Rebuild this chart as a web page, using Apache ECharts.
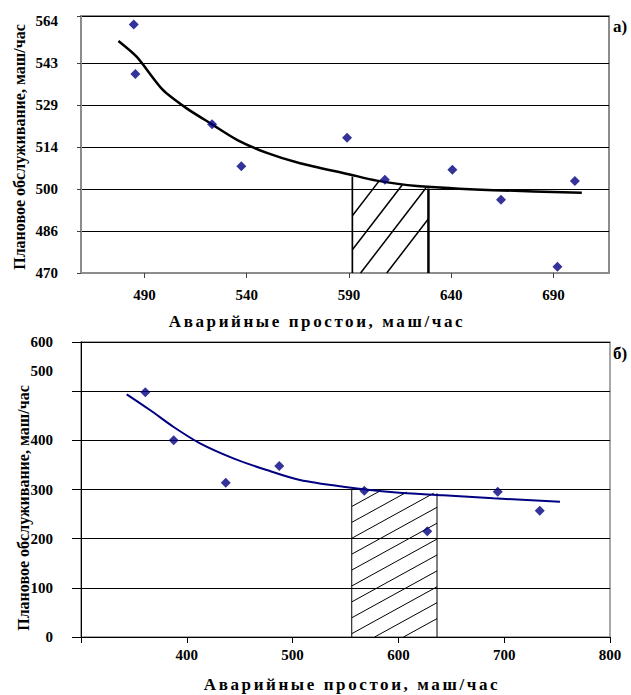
<!DOCTYPE html>
<html>
<head>
<meta charset="utf-8">
<script src="https://cdn.jsdelivr.net/npm/echarts@6/dist/echarts.min.js"></script>
<style>
  html, body { margin: 0; padding: 0; background: #fff; }
  #main { width: 631px; height: 695px; }
</style>
</head>
<body>
<div id="main"></div>
<script>
// а) верхний график
var topPointsX = [484.8, 485.6, 523.1, 537.4, 589.1, 607.6, 640.6, 664.4, 692.0, 700.5];
var topPointsY = [558.8, 541.1, 523.1, 508.1, 518.3, 503.3, 506.9, 496.2, 472.2, 502.9];
var topTrendX = [477.3, 486.3, 498.8, 510.7, 523.1, 535.5, 549.9, 566.1, 589.8, 603.6, 623.2, 660.7, 703.9];
var topTrendY = [552.9, 547.2, 535.6, 528.8, 523.1, 517.5, 512.9, 509.2, 505.3, 503.0, 501.1, 499.6, 498.7];
var topXTicks = [490, 540, 590, 640, 690];
var topYLabels = ['470', '486', '500', '514', '529', '543', '564'];
var topZone = [591.7, 628.9, 504.4, 500.2]; // x от, x до, верх слева, верх справа

// б) нижний график
var botPointsX = [360.8, 387.6, 436.8, 487.4, 567.8, 627.3, 693.9, 733.6];
var botPointsY = [497.7, 400.0, 313.8, 347.8, 297.5, 215.0, 295.5, 256.9];
var botTrendX = [343.2, 365.2, 387.2, 412.5, 444.0, 475.5, 507.0, 547.9, 595.2, 642.4, 689.7, 752.7];
var botTrendY = [493.6, 461.7, 427.7, 393.9, 363.4, 339.6, 319.3, 305.7, 294.3, 288.2, 282.1, 275.2];
var botZone = [555.9, 636.5, 299.0, 292.2];

var yTitle = 'Плановое обслуживание, маш/час';
var xTitle = 'Аварийные простои, маш/час';

var serif = "'Liberation Serif', 'Times New Roman', serif";

function zip(xs, ys) {
  return xs.map(function (x, i) { return [x, ys[i]]; });
}

// y-шкала верхнего графика: равные шаги, подписи как на рисунке
var topYMin = 470, topYStep = 15;
var topYVals = topYLabels.map(function (l, i) { return topYMin + i * topYStep; });
var topYMax = 561.8;

function clipLine(p, d, poly) {
  var ts = [];
  for (var i = 0; i < poly.length; i++) {
    var a = poly[i], b = poly[(i + 1) % poly.length];
    var ex = b[0] - a[0], ey = b[1] - a[1];
    var den = d[0] * ey - d[1] * ex;
    if (Math.abs(den) < 1e-9) continue;
    var wx = a[0] - p[0], wy = a[1] - p[1];
    var t = (wx * ey - wy * ex) / den;
    var u = (wx * d[1] - wy * d[0]) / den;
    if (u >= -1e-9 && u <= 1 + 1e-9) ts.push(t);
  }
  if (ts.length < 2) return null;
  var t0 = Math.min.apply(null, ts), t1 = Math.max.apply(null, ts);
  if (t1 - t0 < 1) return null;
  return [[p[0] + t0 * d[0], p[1] + t0 * d[1]], [p[0] + t1 * d[0], p[1] + t1 * d[1]]];
}

// штриховка зоны
function hatch(slope, phase, step, count, lw, leftW, rightW) {
  return function (params, api) {
    var tl = api.coord([api.value(0), api.value(2)]);
    var tr = api.coord([api.value(1), api.value(3)]);
    var bottom = params.coordSys.y + params.coordSys.height;
    var bl = [tl[0], bottom], br = [tr[0], bottom];
    var poly = [tl, tr, br, bl];
    var kids = [
      { type: 'line', shape: { x1: tl[0], y1: tl[1], x2: bl[0], y2: bl[1] }, style: { stroke: '#000', lineWidth: leftW } },
      { type: 'line', shape: { x1: tr[0], y1: tr[1], x2: br[0], y2: br[1] }, style: { stroke: '#000', lineWidth: rightW } }
    ];
    for (var k = 0; k < count; k++) {
      var seg = clipLine([tl[0], tl[1] + phase + k * step], [1, slope], poly);
      if (!seg) continue;
      kids.push({
        type: 'line',
        shape: { x1: seg[0][0], y1: seg[0][1], x2: seg[1][0], y2: seg[1][1] },
        style: { stroke: '#000', lineWidth: lw }
      });
    }
    return { type: 'group', children: kids };
  };
}

var labelFont = { fontFamily: serif, fontWeight: 'bold', fontSize: 15, color: '#000' };

var myChart = echarts.init(document.getElementById('main'), null, { renderer: 'svg' });

var option = {
  backgroundColor: '#fff',
  animation: false,
  grid: [
    { left: 81, top: 16, width: 528, height: 257, show: true, borderColor: '#8c8c8c', borderWidth: 2 },
    { left: 81, top: 342, width: 529, height: 295, show: true, borderColor: '#8c8c8c', borderWidth: 1.5 }
  ],
  xAxis: [
    {
      gridIndex: 0, type: 'value', min: 459, max: 717.2,
      axisLine: { show: true, lineStyle: { color: '#8c8c8c', width: 2 } },
      axisTick: { show: true, customValues: topXTicks, length: 5, lineStyle: { color: '#404040' } },
      axisLabel: Object.assign({ customValues: topXTicks, margin: 14 }, labelFont),
      splitLine: { show: false }
    },
    {
      gridIndex: 1, type: 'value', min: 300, max: 800, interval: 100,
      axisLine: { show: true, onZero: false, lineStyle: { color: '#000', width: 1 } },
      axisTick: { show: true, length: 6, lineStyle: { color: '#000' } },
      axisLabel: Object.assign({
        margin: 10,
        formatter: function (v) { return v === 300 ? '' : String(v); }
      }, labelFont),
      splitLine: { show: false }
    }
  ],
  yAxis: [
    {
      gridIndex: 0, type: 'value', min: topYMin, max: topYMax,
      axisLine: { show: true, lineStyle: { color: '#8c8c8c', width: 2 } },
      axisTick: { show: true, length: 4, customValues: topYVals.slice(0, -1).concat([topYMax]), lineStyle: { color: '#404040' } },
      axisLabel: Object.assign({
        customValues: topYVals, margin: 23,
        formatter: function (v) { return topYLabels[Math.round((v - topYMin) / topYStep)]; }
      }, labelFont),
      splitLine: { show: true, lineStyle: { color: '#000', width: 1 } }
    },
    {
      gridIndex: 1, type: 'value', min: 0, max: 600, interval: 100,
      axisLine: { show: true, onZero: false, lineStyle: { color: '#000', width: 1 } },
      axisTick: { show: true, length: 9, lineStyle: { color: '#000' } },
      axisLabel: Object.assign({
        margin: 28,
        formatter: function (v) { return v === 500 ? '{up|500}' : String(v); },
        rich: { up: { fontFamily: serif, fontWeight: 'bold', fontSize: 15, color: '#000', padding: [0, 0, 40, 0] } }
      }, labelFont),
      splitLine: { show: true, lineStyle: { color: '#000', width: 1 } }
    }
  ],
  graphic: [
    { type: 'text', x: 19, y: 147, rotation: Math.PI / 2,
      style: { text: yTitle, font: 'bold 16px ' + serif, fill: '#000', textAlign: 'center', textVerticalAlign: 'middle' } },
    { type: 'text', x: 23, y: 508, rotation: Math.PI / 2,
      style: { text: yTitle, font: 'bold 16px ' + serif, fill: '#000', textAlign: 'center', textVerticalAlign: 'middle' } },
    { type: 'text', x: 317, y: 321,
      style: { text: xTitle, font: 'bold 17px ' + serif, fill: '#000', textAlign: 'center', textVerticalAlign: 'middle' } },
    { type: 'text', x: 352, y: 684,
      style: { text: xTitle, font: 'bold 17px ' + serif, fill: '#000', textAlign: 'center', textVerticalAlign: 'middle' } },
    { type: 'text', x: 620, y: 26,
      style: { text: 'а)', font: 'bold 17px ' + serif, fill: '#000', textAlign: 'center', textVerticalAlign: 'middle' } },
    { type: 'text', x: 620, y: 353,
      style: { text: 'б)', font: 'bold 17px ' + serif, fill: '#000', textAlign: 'center', textVerticalAlign: 'middle' } }
  ],
  series: [
    {
      type: 'custom', xAxisIndex: 0, yAxisIndex: 0, z: 1,
      renderItem: hatch(-1.3, 39, 34, 4, 1.5, 1.7, 2.5),
      encode: { x: [0, 1], y: [2, 3] },
      data: [topZone]
    },
    {
      type: 'line', xAxisIndex: 0, yAxisIndex: 0, z: 2, smooth: 0.25, showSymbol: false,
      lineStyle: { color: '#000', width: 2.5 },
      data: zip(topTrendX, topTrendY)
    },
    {
      type: 'scatter', xAxisIndex: 0, yAxisIndex: 0, z: 3, symbol: 'diamond', symbolSize: 10,
      itemStyle: { color: '#000080' },
      data: zip(topPointsX, topPointsY)
    },
    {
      type: 'custom', xAxisIndex: 1, yAxisIndex: 1, z: 1,
      renderItem: hatch(-0.55, 16.5, 15.9, 11, 1, 1, 1),
      encode: { x: [0, 1], y: [2, 3] },
      data: [botZone]
    },
    {
      type: 'line', xAxisIndex: 1, yAxisIndex: 1, z: 2, smooth: 0.3, showSymbol: false,
      lineStyle: { color: '#000080', width: 2 },
      data: zip(botTrendX, botTrendY)
    },
    {
      type: 'scatter', xAxisIndex: 1, yAxisIndex: 1, z: 3, symbol: 'diamond', symbolSize: 10,
      itemStyle: { color: '#000080' },
      data: zip(botPointsX, botPointsY)
    }
  ]
};

myChart.setOption(option);

// разрядка подписи оси X, как в оригинале
function spaceTitles() {
  var texts = document.querySelectorAll('#main svg text');
  for (var i = 0; i < texts.length; i++) {
    if (texts[i].textContent === xTitle) texts[i].style.letterSpacing = '2.6px';
  }
}
myChart.on('finished', spaceTitles);
spaceTitles();
</script>
</body>
</html>
